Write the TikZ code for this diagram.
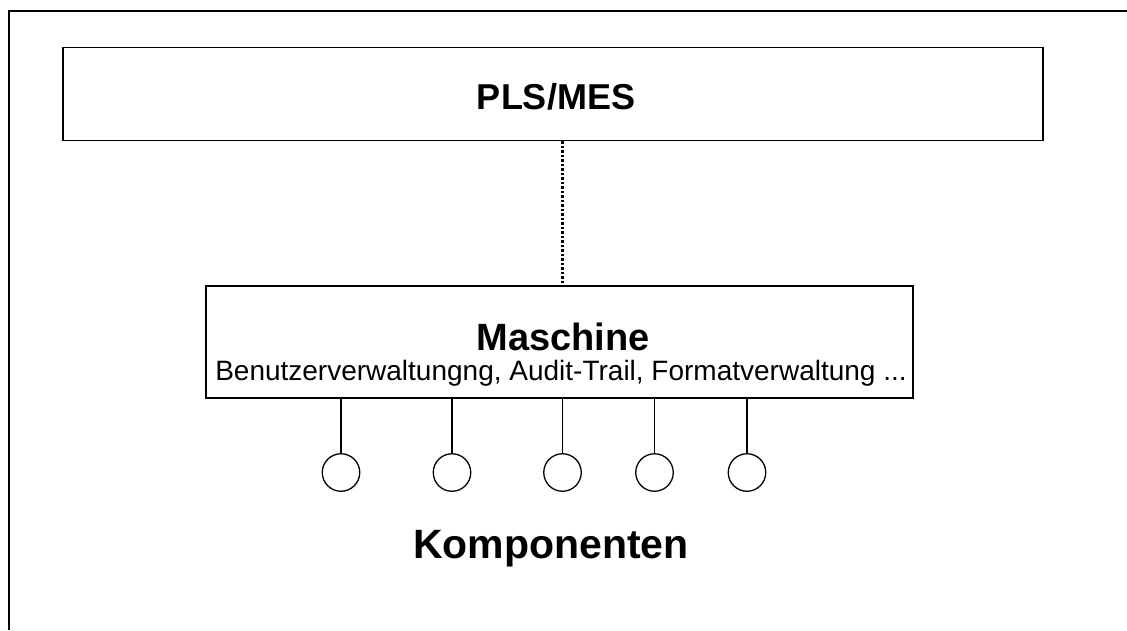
\documentclass[tikz,border=0pt]{standalone}
\usepackage{fontspec}
\setmainfont{Liberation Sans}
\begin{document}
\begin{tikzpicture}[x=1pt,y=-1pt,
  box/.style={draw,line width=1.5pt,inner sep=0pt},
  comp/.style={draw,circle,line width=1.3pt,minimum size=37.5pt,inner sep=0pt},
  stub/.style={line width=1.3pt},
  title/.style={font=\fontsize{36}{40}\selectfont\bfseries,anchor=base,inner sep=0pt}]
\useasboundingbox (0,0) rectangle (1127,630);
% open frame: top and left edges only
\draw[line width=2pt] (8.5,630) -- (8.5,10.5) -- (1127,10.5);
% upper level
\node[box,minimum width=980pt,minimum height=93pt] (pls) at (553,94) {};
\node[title] (plst) at (556,109) {PLS/MES};
% machine level
\node[box,minimum width=707pt,minimum height=112pt] (mas) at (559.25,342) {};
\node[title,font=\fontsize{38}{42}\selectfont\bfseries] (mast) at (563,350) {Maschine};
\node[anchor=base,inner sep=0pt,font=\fontsize{28}{32}\selectfont] (funk) at (561,380)
  {Benutzerverwaltungng, Audit-Trail, Formatverwaltung ...};
% dotted link between the levels
\draw[line width=3pt,dash pattern=on 2.5pt off 2pt] (pls.south -| 562.5,0) -- (mas.north -| 562.5,0);
% components
\foreach \i/\x in {1/341,2/452,3/562.5,4/654.5,5/747}{
  \node[comp] (c\i) at (\x,472.5) {};
  \draw[stub] (c\i.north) -- (c\i.north |- mas.south);
}
\node[title,font=\fontsize{41}{45}\selectfont\bfseries] (komp) at (551,558) {Komponenten};
\end{tikzpicture}
\end{document}
